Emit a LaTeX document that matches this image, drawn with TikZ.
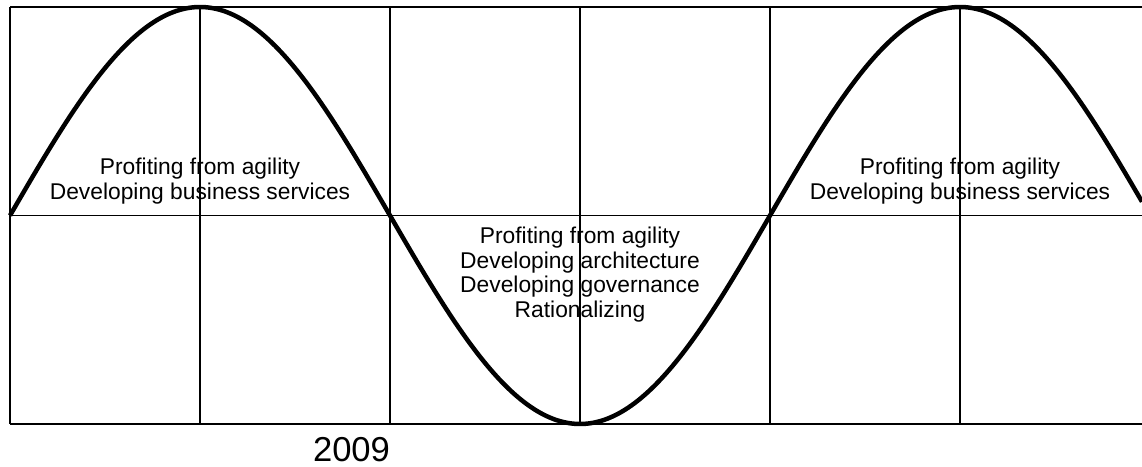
\documentclass[tikz,border=0pt]{standalone}
\usepackage{fontspec}
\setmainfont{Liberation Sans}
\usepackage{tikz}
\usetikzlibrary{
  positioning,
  calc
}
\tikzset{
  every grid line/.style={draw,line width=1.3pt},
  cycle wave/.style={draw,line width=4.5pt,line join=round},
  phase label/.style={align=center,inner sep=0pt,font=\fontsize{22.8}{24.5}\selectfont},
  year label/.style={inner sep=0pt,font=\fontsize{34.6}{40}\selectfont},
}
\colorlet{wave}{black}

\begin{document}
\begin{tikzpicture}[x=1pt,y=-1pt]
\useasboundingbox (0,0) rectangle (1142,466);
\foreach[count=\k] \xx in {10,200,...,960}
{
  \draw[every grid line] (\xx,7) -- (\xx,424);
}
\foreach[count=\k] \yy in {7,215.5,424}
{
  \draw[every grid line] (10,\yy) -- (1142,\yy);
}
\draw[cycle wave, color=wave] plot[domain=10:1142, samples=240, smooth]
  (\x, {215.5 - 208.5*sin((\x-10)/760*360)});
\node[phase label] (up1) at (200,181.3) {Profiting from agility\\Developing business services};
\node[phase label] (down) at (580,274.5) {Profiting from agility\\Developing architecture\\Developing governance\\Rationalizing};
\node[phase label] (up2) at (960,181.3) {Profiting from agility\\Developing business services};
\node[year label] (year) at (351.5,449.5) {2009};
\end{tikzpicture}
\end{document}
